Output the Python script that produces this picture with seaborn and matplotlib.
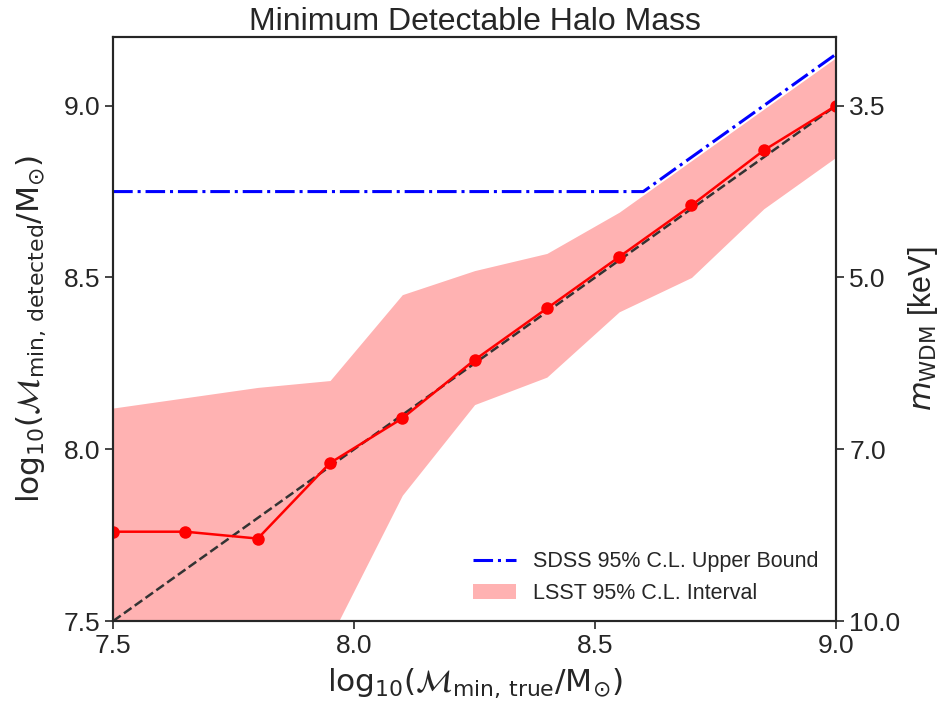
import matplotlib
matplotlib.use('Agg')
import matplotlib.pyplot as plt
import numpy as np
import pandas as pd
import seaborn as sns

# Data
m_true = [7.5, 7.65, 7.8, 7.95, 8.1, 8.25, 8.4, 8.55, 8.7, 8.85, 9.0]
m_detected = [7.76, 7.76, 7.74, 7.96, 8.09, 8.26, 8.41, 8.56, 8.71, 8.87, 9.0]
lsst_lower = [7.2, 7.28, 7.36, 7.45, 7.866, 8.13, 8.21, 8.40, 8.50, 8.70, 8.85]
lsst_upper = [8.12, 8.15, 8.18, 8.20, 8.45, 8.52, 8.57, 8.69, 8.84, 8.99, 9.14]

sdss_x = [7.5, 8.6, 9.0]
sdss_y = [8.75, 8.75, 9.15]

diag = [7.5, 9.0]

left_ticks = [7.5, 8.0, 8.5, 9.0]
wdm_labels = ['10.0', '7.0', '5.0', '3.5']

sns.set_style('ticks')
plt.rcParams['font.family'] = ['Liberation Sans', 'DejaVu Sans']
plt.rcParams['text.color'] = '#262626'
plt.rcParams['axes.labelcolor'] = '#262626'
plt.rcParams['xtick.color'] = '#262626'
plt.rcParams['ytick.color'] = '#262626'

fig, ax = plt.subplots(figsize=(9.43, 7.07), dpi=100)
fig.subplots_adjust(left=0.12, right=0.8866, top=0.9477, bottom=0.1216)

# LSST band
ax.fill_between(m_true, lsst_lower, lsst_upper, color='red', alpha=0.3,
                linewidth=0, label='LSST 95% C.L. Interval')

# one-to-one reference
sns.lineplot(x=diag, y=diag, ax=ax, color='#333333', linestyle='--',
             linewidth=1.8, label='_nolegend_')

# SDSS bound
sns.lineplot(x=sdss_x, y=sdss_y, ax=ax, color='blue', linestyle='-.',
             linewidth=2.2, label='SDSS 95% C.L. Upper Bound')

# detected minimum mass
df = pd.DataFrame({'true': m_true, 'detected': m_detected})
sns.lineplot(data=df, x='true', y='detected', ax=ax, color='red',
             marker='o', markersize=9, markeredgewidth=0, linewidth=1.8,
             label='_nolegend_')

ax.set_xlim(7.5, 9.0)
ax.set_ylim(7.5, 9.2)
ax.set_xticks(left_ticks)
ax.set_yticks(left_ticks)
ax.tick_params(labelsize=19, length=6, width=1.2)
for s in ax.spines.values():
    s.set_linewidth(1.5)
    s.set_color('#262626')

ax.set_xlabel(r'${\rm log}_{10}(\mathcal{M}_{\rm min,\,true}/{\rm M}_{\odot})$',
              fontsize=22.5, labelpad=6)
ax.set_ylabel(r'${\rm log}_{10}(\mathcal{M}_{\rm min,\,detected}/{\rm M}_{\odot})$',
              fontsize=22.5, labelpad=11)
ax.set_title('Minimum Detectable Halo Mass', fontsize=23, pad=5)

handles, labels = ax.get_legend_handles_labels()
order = [labels.index('SDSS 95% C.L. Upper Bound'), labels.index('LSST 95% C.L. Interval')]
ax.legend([handles[i] for i in order], [labels[i] for i in order],
          loc='lower right', frameon=False, fontsize=15.5, handlelength=2.0,
          borderaxespad=0.4)

ax2 = ax.twinx()
ax2.set_ylim(ax.get_ylim())
ax2.set_yticks(left_ticks)
ax2.set_yticklabels(wdm_labels)
ax2.tick_params(labelsize=19, length=6, width=1.2)
ax2.set_ylabel(r'$m_{\rm WDM}$ [keV]', fontsize=22, labelpad=4)
for s in ax2.spines.values():
    s.set_linewidth(1.5)
    s.set_color('#262626')

fig.savefig('out.png', dpi=100)
